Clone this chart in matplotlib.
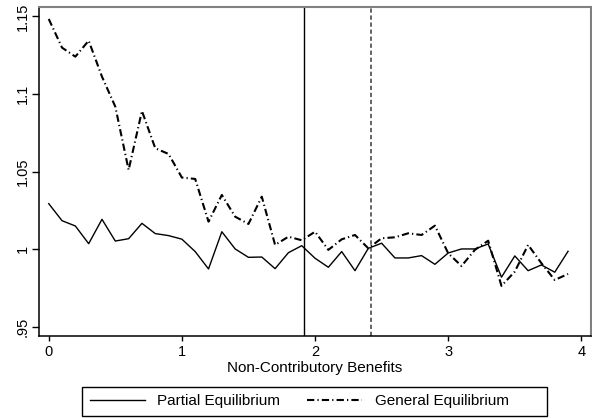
import matplotlib
matplotlib.use("Agg")
import matplotlib.pyplot as plt
from matplotlib.patches import Rectangle
from matplotlib.ticker import FixedLocator

plt.rcParams['font.family'] = ['Liberation Sans', 'DejaVu Sans']

# benefit levels 0.0 .. 3.9
benefits = [round(0.1 * i, 1) for i in range(40)]

partial_eq = [1.0294, 1.0184, 1.0150, 1.0036, 1.0193, 1.0053, 1.0068, 1.0167, 1.0101, 1.0088,
              1.0065, 0.9985, 0.9873, 1.0113, 1.0002, 0.9948, 0.9950, 0.9875, 0.9978, 1.0023,
              0.9942, 0.9884, 0.9985, 0.9862, 1.0006, 1.0039, 0.9944, 0.9944, 0.9959, 0.9903,
              0.9976, 1.0002, 1.0002, 1.0034, 0.9820, 0.9957, 0.9862, 0.9899, 0.9852, 0.9987]

general_eq = [1.1484, 1.1299, 1.1241, 1.1344, 1.1112, 1.0919, 1.0511, 1.0891, 1.0651, 1.0614,
              1.0462, 1.0453, 1.0178, 1.0350, 1.0210, 1.0163, 1.0339, 1.0028, 1.0081, 1.0058,
              1.0113, 0.9996, 1.0064, 1.0092, 1.0006, 1.0071, 1.0077, 1.0103, 1.0092, 1.0152,
              0.9974, 0.9892, 0.9996, 1.0055, 0.9764, 0.9856, 1.0028, 0.9910, 0.9802, 0.9841]

x_ticks = [0, 1, 2, 3, 4]
y_ticks = [0.95, 1.0, 1.05, 1.1, 1.15]
y_tick_labels = ['.95', '1', '1.05', '1.1', '1.15']
vlines = [1.92, 2.42]

W, H = 592, 418
fig = plt.figure(figsize=(W / 100, H / 100), dpi=100)
ax = fig.add_axes([39 / W, 1 - 335.7 / H, (590.7 - 39) / W, (335.7 - 6.7) / H])

ax.plot(benefits, partial_eq, color='black', lw=1.0, label='Partial Equilibrium')
ax.plot(benefits, general_eq, color='black', lw=1.5, linestyle=(0, (3.5, 1.5, 0.6, 1.5)),
        label='General Equilibrium')

ax.axvline(vlines[0], color='black', lw=1.0)
ax.axvline(vlines[1], color='#3a3a3a', lw=1.1, linestyle=(0, (2.8, 1.8)))

ax.set_xlim(-0.073, 4.07)
ax.set_ylim(0.9443, 1.1563)
ax.xaxis.set_major_locator(FixedLocator(x_ticks))
ax.set_yticks(y_ticks)
ax.set_yticklabels(y_tick_labels, rotation=90, va='center')
ax.tick_params(direction='out', width=1, labelsize=10.5, color='black')
ax.tick_params(axis='x', length=3.8, pad=3)
ax.tick_params(axis='y', length=4.8, pad=2)

for side in ['left', 'bottom']:
    ax.spines[side].set_color('black')
    ax.spines[side].set_linewidth(1.1)
for side in ['top', 'right']:
    ax.spines[side].set_color('#808080')
    ax.spines[side].set_linewidth(1.5)

ax.set_xlabel('Non-Contributory Benefits', fontsize=11, labelpad=1)

# legend entries, frame drawn separately so the box matches the original width
leg = fig.legend(loc='center left', bbox_to_anchor=(82 / W, 1 - 401.5 / H), ncol=2,
                 fontsize=11, frameon=False, handlelength=3.6, columnspacing=1.8,
                 borderpad=0, handletextpad=0.8)
fig.add_artist(Rectangle((82 / W, 1 - 416 / H), 465 / W, 29 / H, transform=fig.transFigure,
                         fill=False, edgecolor='black', lw=1.0))

fig.savefig('out.png', dpi=100)
